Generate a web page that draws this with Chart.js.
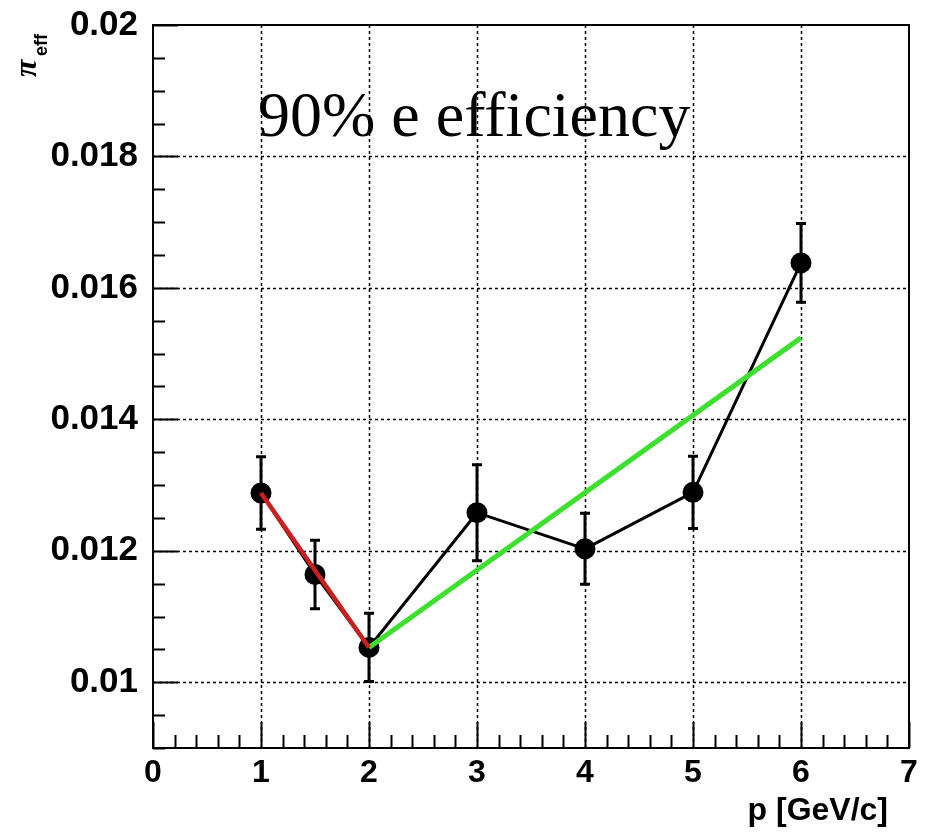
<!DOCTYPE html>
<html>
<head>
<meta charset="utf-8">
<script src="https://cdn.jsdelivr.net/npm/chart.js@4.4.1/dist/chart.umd.min.js"></script>
<style>
  body { margin: 0; background: #fff; }
</style>
</head>
<body>
<canvas id="effChart" width="928" height="832"></canvas>
<script>
// Data
const momentum = [1, 1.5, 2, 3, 4, 5, 6];
const pionEff = [0.01288, 0.01164, 0.01053, 0.01258, 0.01203, 0.01289, 0.01638];
const pionErr = [0.00055, 0.00052, 0.00052, 0.00073, 0.00054, 0.00055, 0.0006];

const redFitX = [1, 2];
const redFitY = [0.01288, 0.01053];
const greenFitX = [2, 6];
const greenFitY = [0.01053, 0.01524];

const xTicks = [0, 1, 2, 3, 4, 5, 6, 7];
const xTickLabels = ["0", "1", "2", "3", "4", "5", "6", "7"];
const yTicks = [0.01, 0.012, 0.014, 0.016, 0.018, 0.02];
const yTickLabels = ["0.01", "0.012", "0.014", "0.016", "0.018", "0.02"];

const toPoints = (xs, ys) => xs.map((v, i) => ({ x: v, y: ys[i] }));

// ROOT-like frame: dotted grid, error bars, inner ticks, labels
const rootFrame = {
  id: "rootFrame",
  beforeDatasetsDraw(chart) {
    const { ctx, chartArea: a, scales } = chart;
    const x = scales.x, y = scales.y;
    ctx.save();
    ctx.strokeStyle = "#000";
    ctx.lineWidth = 1.5;
    ctx.setLineDash([3, 3]);
    ctx.beginPath();
    xTicks.forEach((v) => {
      const px = Math.round(x.getPixelForValue(v)) + 0.5;
      if (px <= a.left + 2 || px >= a.right - 2) return;
      ctx.moveTo(px, a.top);
      ctx.lineTo(px, a.bottom);
    });
    yTicks.forEach((v) => {
      const py = Math.round(y.getPixelForValue(v)) + 0.5;
      if (py <= a.top + 2 || py >= a.bottom - 2) return;
      ctx.moveTo(a.left, py);
      ctx.lineTo(a.right, py);
    });
    ctx.stroke();
    ctx.setLineDash([]);

    // error bars
    ctx.lineWidth = 3;
    ctx.beginPath();
    momentum.forEach((m, i) => {
      const px = x.getPixelForValue(m);
      const top = y.getPixelForValue(pionEff[i] + pionErr[i]);
      const bot = y.getPixelForValue(pionEff[i] - pionErr[i]);
      ctx.moveTo(px, top);
      ctx.lineTo(px, bot);
      ctx.moveTo(px - 5, top);
      ctx.lineTo(px + 5, top);
      ctx.moveTo(px - 5, bot);
      ctx.lineTo(px + 5, bot);
    });
    ctx.stroke();
    ctx.restore();
  },
  afterDraw(chart) {
    const { ctx, chartArea: a, scales } = chart;
    const x = scales.x, y = scales.y;
    ctx.save();
    ctx.strokeStyle = "#000";
    ctx.lineWidth = 2;
    ctx.strokeRect(a.left, a.top, a.right - a.left, a.bottom - a.top);

    ctx.beginPath();
    // x ticks every 0.2, major every 1
    for (let i = 0; i <= 35; i++) {
      const px = Math.round(x.getPixelForValue(i / 5)) + 0.5;
      const len = i % 5 === 0 ? 26 : 13;
      ctx.moveTo(px, a.bottom);
      ctx.lineTo(px, a.bottom - len);
    }
    // y ticks every 0.0005, major every 0.002
    for (let i = 0; i <= 22; i++) {
      const v = (90 + i * 5) / 10000;
      const py = Math.round(y.getPixelForValue(v)) + 0.5;
      const len = (i - 2) % 4 === 0 ? 25 : 12;
      ctx.moveTo(a.left, py);
      ctx.lineTo(a.left + len, py);
    }
    ctx.stroke();

    // axis title x
    ctx.fillStyle = "#000";
    ctx.font = "bold 32px 'Liberation Sans', Arial, sans-serif";
    ctx.textAlign = "right";
    ctx.textBaseline = "alphabetic";
    ctx.fillText("p [GeV/c]", 888, 820);

    // axis title y: pi_eff
    ctx.save();
    ctx.translate(36, 77);
    ctx.rotate(-Math.PI / 2);
    ctx.textAlign = "left";
    ctx.font = "bold italic 32px 'Liberation Serif', serif";
    ctx.fillText("π", 0, 0);
    ctx.font = "bold 18px 'Liberation Sans', Arial, sans-serif";
    ctx.fillText("eff", 21, 11);
    ctx.restore();

    // annotation
    ctx.font = "64px 'Liberation Serif', 'Times New Roman', serif";
    ctx.textAlign = "left";
    ctx.fillText("90% e efficiency", 258, 136);
    ctx.restore();
  },
};

const ctx = document.getElementById("effChart").getContext("2d");
const effChart = new Chart(ctx, {
  type: "scatter",
  data: {
    datasets: [
      {
        label: "pion efficiency",
        data: toPoints(momentum, pionEff),
        showLine: true,
        borderColor: "#000",
        backgroundColor: "#000",
        borderWidth: 3,
        pointRadius: 9,
        pointHoverRadius: 9,
        order: 2,
      },
      {
        label: "fit 1-2",
        data: toPoints(redFitX, redFitY),
        showLine: true,
        borderColor: "#cc2020",
        borderWidth: 4.5,
        pointRadius: 0,
        order: 1,
      },
      {
        label: "fit 2-6",
        data: toPoints(greenFitX, greenFitY),
        showLine: true,
        borderColor: "#3ee030",
        borderWidth: 5,
        pointRadius: 0,
        order: 1,
      },
    ],
  },
  options: {
    responsive: false,
    animation: false,
    layout: { padding: { top: 25, right: 19, left: 0, bottom: 0 } },
    plugins: {
      legend: { display: false },
      tooltip: { enabled: false },
    },
    scales: {
      x: {
        type: "linear",
        min: 0,
        max: 7,
        afterBuildTicks: (scale) => {
          scale.ticks = xTicks.map((v) => ({ value: v }));
        },
        afterFit: (scale) => {
          scale.height = 84;
          scale.paddingLeft = 0;
          scale.paddingRight = 0;
        },
        grid: { display: false, drawTicks: false },
        border: { display: false },
        ticks: {
          autoSkip: false,
          maxRotation: 0,
          padding: 6,
          color: "#000",
          font: { family: "'Liberation Sans', Arial, sans-serif", size: 32, weight: "bold" },
          callback: (v, i) => xTickLabels[i],
        },
      },
      y: {
        type: "linear",
        min: 0.009,
        max: 0.02,
        afterBuildTicks: (scale) => {
          scale.ticks = yTicks.map((v) => ({ value: v }));
        },
        afterFit: (scale) => {
          scale.width = 153;
          scale.paddingTop = 0;
          scale.paddingBottom = 0;
        },
        grid: { display: false, drawTicks: false },
        border: { display: false },
        ticks: {
          autoSkip: false,
          padding: 15,
          color: "#000",
          font: { family: "'Liberation Sans', Arial, sans-serif", size: 35, weight: "bold" },
          callback: (v, i) => yTickLabels[i],
        },
      },
    },
  },
  plugins: [rootFrame],
});
</script>
</body>
</html>
